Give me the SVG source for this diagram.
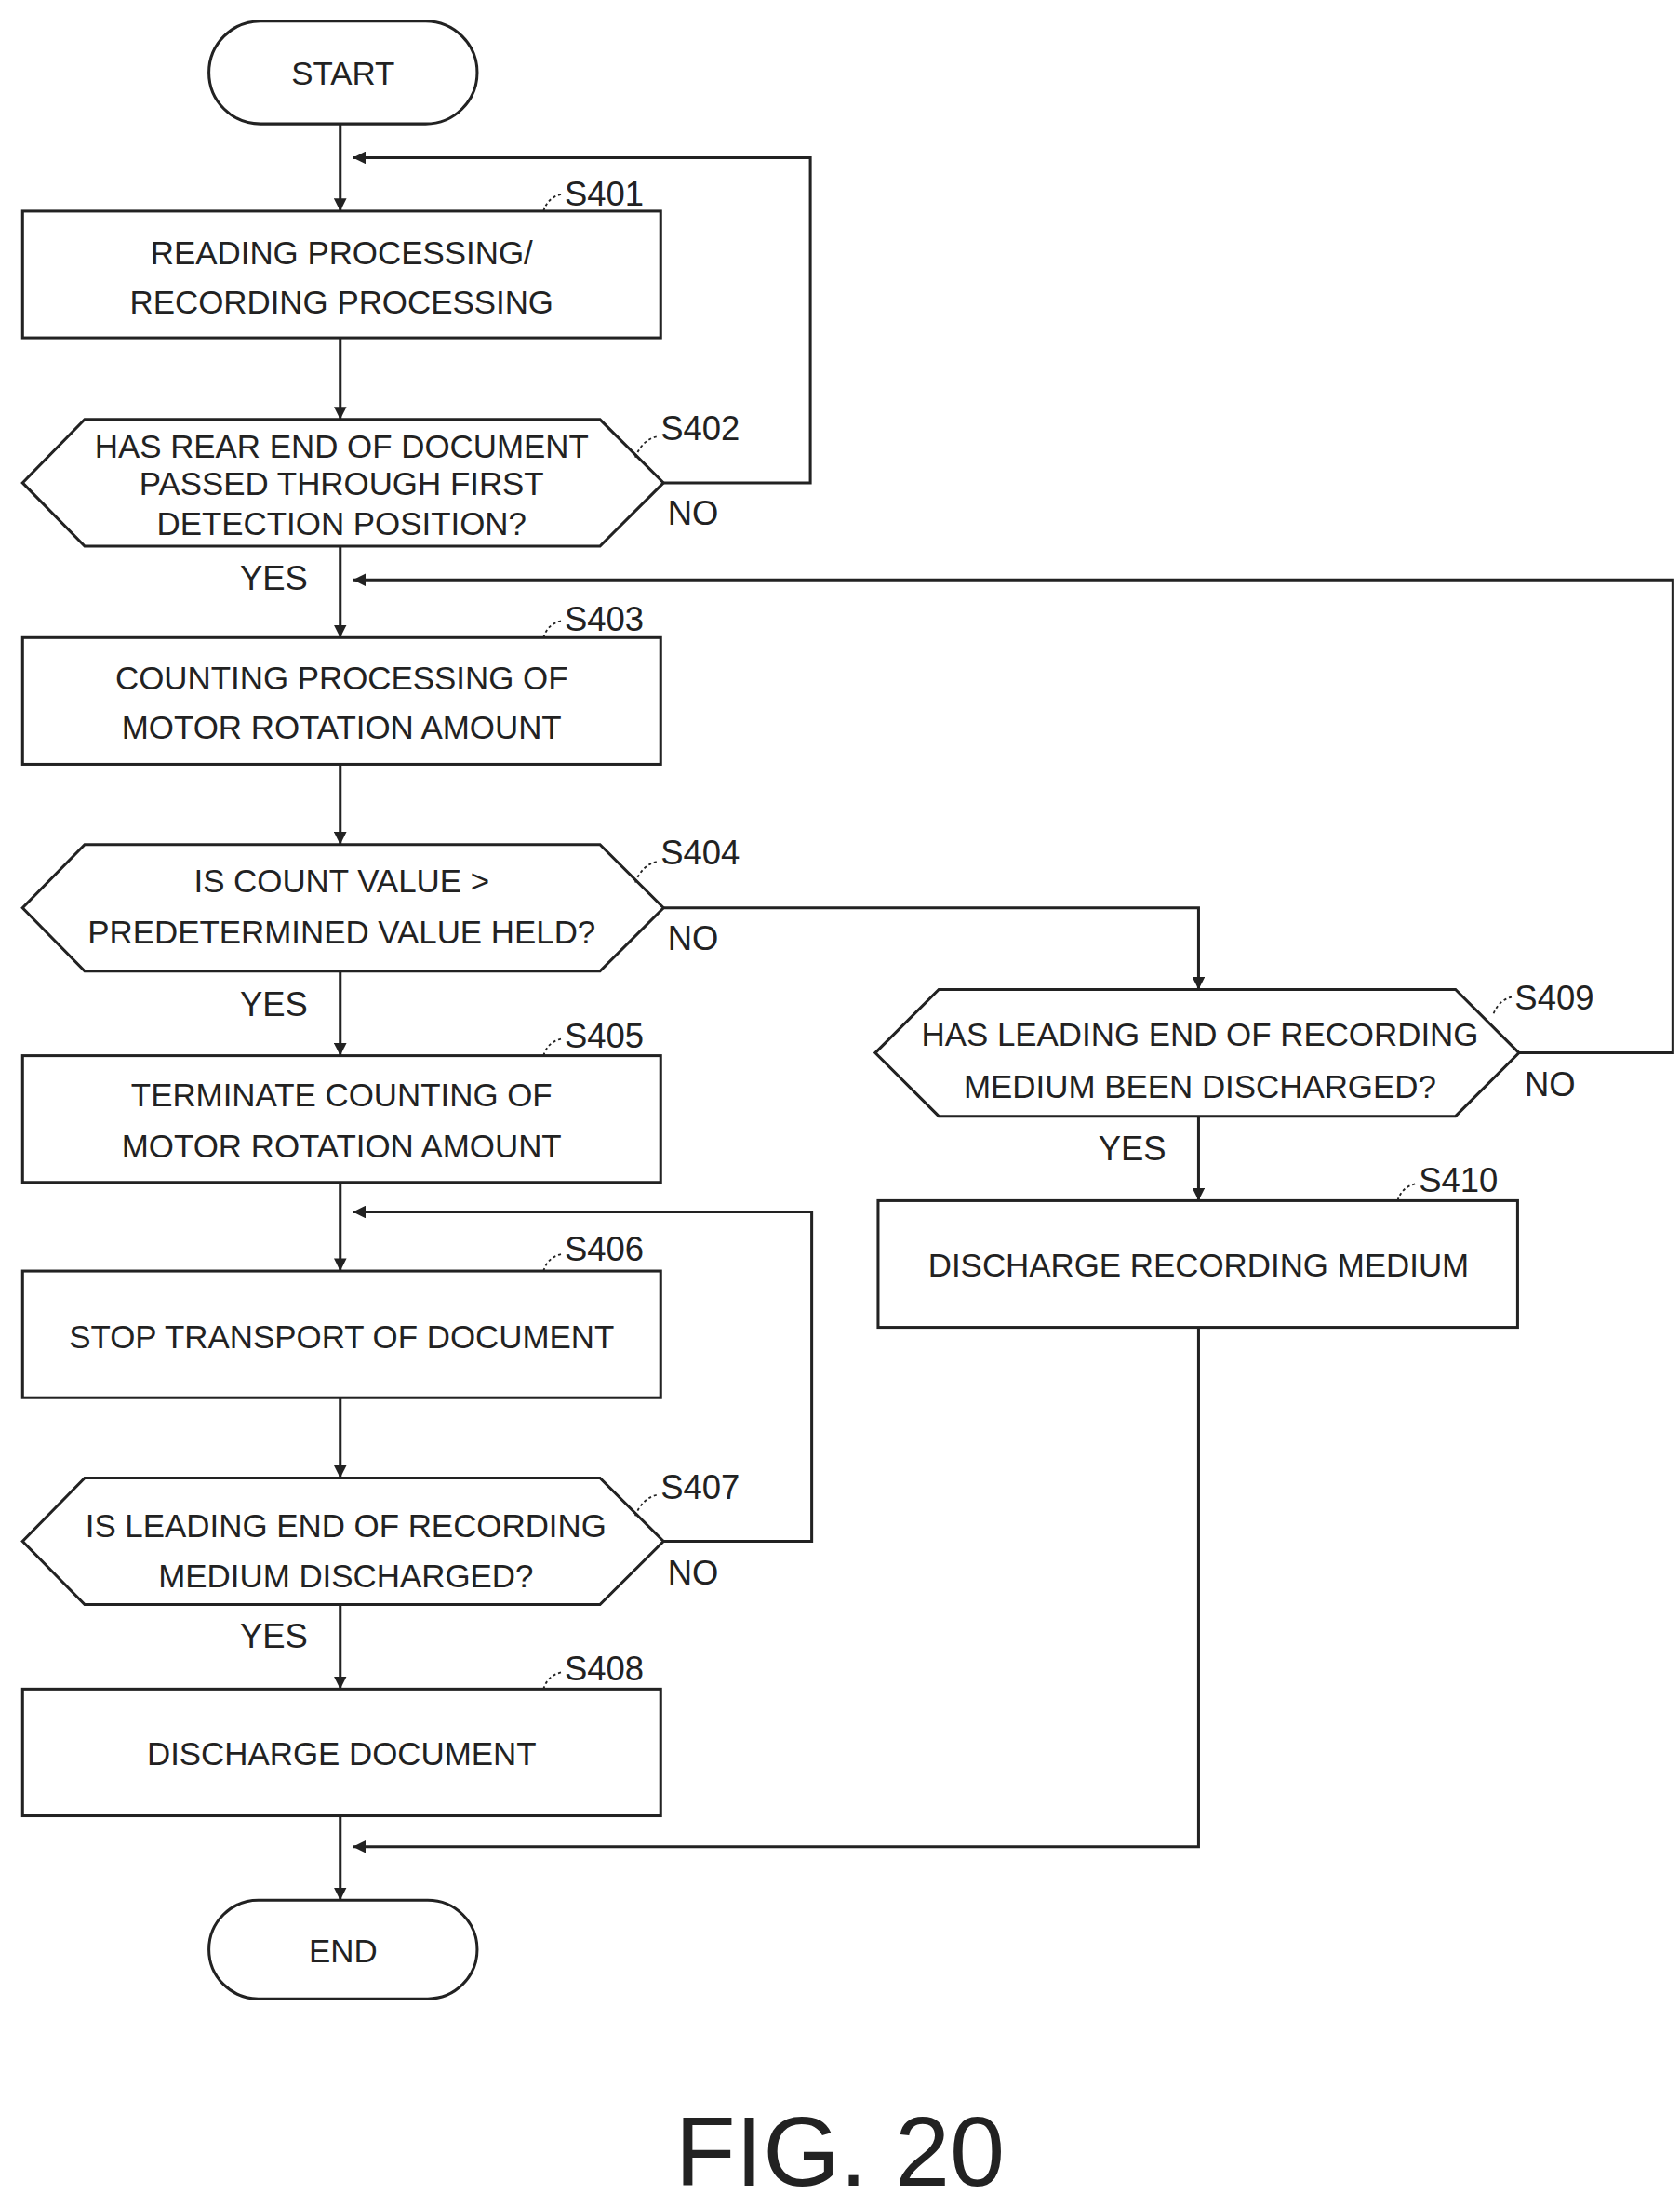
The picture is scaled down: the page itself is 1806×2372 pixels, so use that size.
<svg xmlns="http://www.w3.org/2000/svg" width="1806" height="2372" viewBox="0 0 1806 2372">
<style>
.s{fill:#fff;stroke:#222;stroke-width:2}
.c{fill:none;stroke:#222;stroke-width:2}
.t{font-family:"Liberation Sans",Arial,sans-serif;font-size:23px;fill:#222;text-anchor:middle}
.l{font-family:"Liberation Sans",Arial,sans-serif;font-size:24px;fill:#222}
.lb{fill:none;stroke:#222;stroke-width:1.2;stroke-dasharray:2 2}
</style>
<defs>
<marker id="a" viewBox="0 0 10 10" refX="10" refY="5" markerWidth="9" markerHeight="9" markerUnits="userSpaceOnUse" orient="auto"><path d="M0,0 L10,5 L0,10 z" fill="#222"/></marker>
</defs>
<rect width="1806" height="2372" fill="#fff"/>
<g transform="scale(1.5176,1.5128)">
<g id="connectors">
<path class="c" d="M241,88 V150" marker-end="url(#a)"/>
<path class="c" d="M470,343 H574 V112 H250" marker-end="url(#a)"/>
<path class="c" d="M241,240 V298" marker-end="url(#a)"/>
<path class="c" d="M241,388 V453" marker-end="url(#a)"/>
<path class="c" d="M1076,748 H1185 V412 H250" marker-end="url(#a)"/>
<path class="c" d="M241,543 V600" marker-end="url(#a)"/>
<path class="c" d="M470,645 H849 V703" marker-end="url(#a)"/>
<path class="c" d="M241,690 V750" marker-end="url(#a)"/>
<path class="c" d="M241,840 V903" marker-end="url(#a)"/>
<path class="c" d="M470,1095 H575 V861 H250" marker-end="url(#a)"/>
<path class="c" d="M241,993 V1050" marker-end="url(#a)"/>
<path class="c" d="M241,1140 V1200" marker-end="url(#a)"/>
<path class="c" d="M241,1290 V1350" marker-end="url(#a)"/>
<path class="c" d="M849,793 V853" marker-end="url(#a)"/>
<path class="c" d="M849,943 V1312 H250" marker-end="url(#a)"/>
</g>
<g id="start"><rect class="s" x="148" y="15" width="190" height="73" rx="36.5"/><text class="t" x="243" y="60" font-size="25">START</text></g>
<g id="s401"><rect class="s" x="16" y="150" width="452" height="90"/><text class="t" x="242" y="188">READING PROCESSING/</text><text class="t" x="242" y="223">RECORDING PROCESSING</text>
<path class="lb" d="M385,150 Q388,140 398,138"/><text class="l" x="400" y="146">S401</text></g>
<g id="s402"><polygon class="s" points="60,298 425,298 470,343 425,388 60,388 16,343"/><text class="t" x="242" y="325">HAS REAR END OF DOCUMENT</text><text class="t" x="242" y="352">PASSED THROUGH FIRST</text><text class="t" x="242" y="380">DETECTION POSITION?</text>
<path class="lb" d="M450,325 Q455,312 466,310"/><text class="l" x="468" y="313">S402</text><text class="l" x="473" y="373">NO</text><text class="l" x="170" y="419">YES</text></g>
<g id="s403"><rect class="s" x="16" y="453" width="452" height="90"/><text class="t" x="242" y="490">COUNTING PROCESSING OF</text><text class="t" x="242" y="525">MOTOR ROTATION AMOUNT</text>
<path class="lb" d="M385,453 Q388,443 398,441"/><text class="l" x="400" y="448">S403</text></g>
<g id="s404"><polygon class="s" points="60,600 425,600 470,645 425,690 60,690 16,645"/><text class="t" x="242" y="634">IS COUNT VALUE &gt;</text><text class="t" x="242" y="670">PREDETERMINED VALUE HELD?</text>
<path class="lb" d="M450,627 Q455,614 466,612"/><text class="l" x="468" y="614">S404</text><text class="l" x="473" y="675">NO</text><text class="l" x="170" y="722">YES</text></g>
<g id="s405"><rect class="s" x="16" y="750" width="452" height="90"/><text class="t" x="242" y="786">TERMINATE COUNTING OF</text><text class="t" x="242" y="822">MOTOR ROTATION AMOUNT</text>
<path class="lb" d="M385,750 Q388,740 398,738"/><text class="l" x="400" y="744">S405</text></g>
<g id="s406"><rect class="s" x="16" y="903" width="452" height="90"/><text class="t" x="242" y="958">STOP TRANSPORT OF DOCUMENT</text>
<path class="lb" d="M385,903 Q388,893 398,891"/><text class="l" x="400" y="896">S406</text></g>
<g id="s407"><polygon class="s" points="60,1050 425,1050 470,1095 425,1140 60,1140 16,1095"/><text class="t" x="245" y="1092">IS LEADING END OF RECORDING</text><text class="t" x="245" y="1128">MEDIUM DISCHARGED?</text>
<path class="lb" d="M450,1077 Q455,1064 466,1062"/><text class="l" x="468" y="1065">S407</text><text class="l" x="473" y="1126">NO</text><text class="l" x="170" y="1171">YES</text></g>
<g id="s408"><rect class="s" x="16" y="1200" width="452" height="90"/><text class="t" x="242" y="1254">DISCHARGE DOCUMENT</text>
<path class="lb" d="M385,1200 Q388,1190 398,1188"/><text class="l" x="400" y="1194">S408</text></g>
<g id="end"><rect class="s" x="148" y="1350" width="190" height="70" rx="35"/><text class="t" x="243" y="1394" font-size="25">END</text></g>
<g id="s409"><polygon class="s" points="665,703 1031,703 1076,748 1031,793 665,793 620,748"/><text class="t" x="850" y="743">HAS LEADING END OF RECORDING</text><text class="t" x="850" y="780">MEDIUM BEEN DISCHARGED?</text>
<path class="lb" d="M1058,720 Q1062,710 1072,708"/><text class="l" x="1073" y="717">S409</text><text class="l" x="1080" y="779">NO</text><text class="l" x="778" y="824">YES</text></g>
<g id="s410"><rect class="s" x="622" y="853" width="453" height="90"/><text class="t" x="849" y="907">DISCHARGE RECORDING MEDIUM</text>
<path class="lb" d="M990,853 Q993,843 1003,841"/><text class="l" x="1005" y="847">S410</text></g>
<text x="595" y="1553" font-family="Liberation Sans,Arial,sans-serif" font-size="70" fill="#222" text-anchor="middle">FIG. 20</text>
</g>
</svg>
